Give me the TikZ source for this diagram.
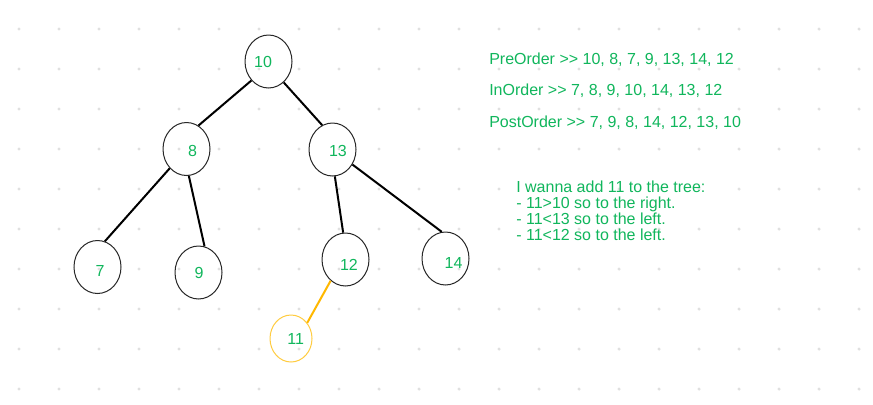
\documentclass[tikz,border=0pt]{standalone}
\usepackage{fontspec}
\setmainfont{Liberation Sans}
\usetikzlibrary{shapes.geometric}
\definecolor{txtgreen}{RGB}{16,182,92}
\definecolor{dotgray}{RGB}{224,224,224}
\definecolor{circline}{RGB}{40,40,40}
\definecolor{orangeedge}{RGB}{255,184,0}
\definecolor{orangecirc}{RGB}{255,204,64}
\tikzset{
  treenode/.style={ellipse, draw=circline, line width=0.75pt, minimum width=35.25pt, minimum height=39.75pt, inner sep=0pt},
  newnode/.style={ellipse, draw=orangecirc, line width=0.75pt, minimum width=31.5pt, minimum height=35.25pt, inner sep=0pt},
  numlabel/.style={text=txtgreen, font=\fontsize{12}{12}\selectfont, inner sep=0pt},
  edge/.style={line width=1.5pt, black},
  newedge/.style={line width=1.5pt, orangeedge},
  note/.style={text=txtgreen, font=\fontsize{12}{12}\selectfont, inner sep=0pt}
}
\begin{document}
\begin{tikzpicture}[x=0.75pt, y=-0.75pt]
\useasboundingbox (0,0) rectangle (873,404);
\fill[white] (0,0) rectangle (873,404);
% dot grid
\foreach \i in {0,...,21} {
  \foreach \j in {0,...,9} {
    \fill[dotgray] (19+40*\i, 29+40*\j) circle (1.3pt);
  }
}
% tree nodes
\node[treenode, label={[numlabel, xshift=-4.1pt, yshift=0pt]center:10}] (n10) at (268.5,61.5) {};
\node[treenode, label={[numlabel, xshift=4.5pt, yshift=-1.3pt]center:8}] (n8) at (186.5,149) {};
\node[treenode, label={[numlabel, xshift=4.1pt, yshift=-0.8pt]center:13}] (n13) at (332.5,149.5) {};
\node[treenode, label={[numlabel, xshift=1.9pt, yshift=-2.8pt]center:7}] (n7) at (97.5,267) {};
\node[treenode, label={[numlabel, xshift=0.4pt, yshift=0pt]center:9}] (n9) at (198.5,272.5) {};
\node[treenode, label={[numlabel, xshift=2.6pt, yshift=-4.1pt]center:12}] (n12) at (345.5,259.5) {};
\node[treenode, label={[numlabel, xshift=6pt, yshift=-3.6pt]center:14}] (n14) at (445.5,258.5) {};
\node[newnode, label={[numlabel, xshift=3.5pt, yshift=0pt]center:11}] (n11) at (291,338.5) {};
% edges
\draw[edge] (n10.228.5) -- (n8.63.4);
\draw[edge] (n10.306) -- (n13.113.2);
\draw[edge] (n8.229.5) -- (n7.74.5);
\draw[edge] (n8.275.5) -- (n9.77.8);
\draw[edge] (n13.275.6) -- (n12.95.6);
\draw[edge] (n13.323.4) -- (n14.98.1);
\draw[newedge] (n12.235.3) -- (n11.44);
% traversal texts
\node[note, anchor=base west] (pre) at (489,64) {PreOrder >{}> 10, 8, 7, 9, 13, 14, 12};
\node[note, anchor=base west] (in) at (489,95.7) {InOrder >{}> 7, 8, 9, 10, 14, 13, 12};
\node[note, anchor=base west] (post) at (489,127.3) {PostOrder >{}> 7, 9, 8, 14, 12, 13, 10};
\node[note, anchor=base west, align=left] (add) at (516,240.3) {I wanna add 11 to the tree:\\- 11>10 so to the right.\\- 11<13 so to the left.\\- 11<12 so to the left.};
\end{tikzpicture}
\end{document}
